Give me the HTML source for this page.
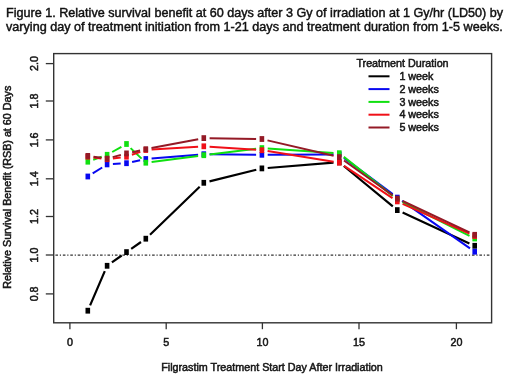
<!DOCTYPE html>
<html><head><meta charset="utf-8"><style>
html,body{margin:0;padding:0;background:#fff;}
body{width:520px;height:390px;overflow:hidden;}
svg{display:block;filter:blur(0.35px);}
text{font-family:"Liberation Sans",sans-serif;stroke:#111;stroke-width:0.5px;}
</style></head><body>
<svg width="520" height="390" viewBox="0 0 520 390">
<rect width="520" height="390" fill="#fff"/>

<text x="6" y="16.7" font-size="12.6" fill="#111" style="stroke-width:0.45px">Figure 1. Relative survival benefit at 60 days after 3 Gy of irradiation at 1 Gy/hr (LD50) by</text>
<text x="6" y="30.6" font-size="12.63" fill="#111" style="stroke-width:0.45px">varying day of treatment initiation from 1-21 days and treatment duration from 1-5 weeks.</text>
<rect x="53.7" y="53.6" width="437.90000000000003" height="269.2" fill="none" stroke="#333" stroke-width="1.4"/>
<line x1="53.7" y1="255.1" x2="491.6" y2="255.1" stroke="#333" stroke-width="1.1" stroke-dasharray="2.6 1.8 1.2 1.838" stroke-dashoffset="5.73"/>
<line x1="69.9" y1="322.8" x2="69.9" y2="329.2" stroke="#333" stroke-width="1.3"/>
<text x="69.9" y="345.6" font-size="10.75" text-anchor="middle" fill="#222">0</text>
<line x1="166.2" y1="322.8" x2="166.2" y2="329.2" stroke="#333" stroke-width="1.3"/>
<text x="166.2" y="345.6" font-size="10.75" text-anchor="middle" fill="#222">5</text>
<line x1="262.4" y1="322.8" x2="262.4" y2="329.2" stroke="#333" stroke-width="1.3"/>
<text x="262.4" y="345.6" font-size="10.75" text-anchor="middle" fill="#222">10</text>
<line x1="359.0" y1="322.8" x2="359.0" y2="329.2" stroke="#333" stroke-width="1.3"/>
<text x="359.0" y="345.6" font-size="10.75" text-anchor="middle" fill="#222">15</text>
<line x1="456.4" y1="322.8" x2="456.4" y2="329.2" stroke="#333" stroke-width="1.3"/>
<text x="456.4" y="345.6" font-size="10.75" text-anchor="middle" fill="#222">20</text>
<line x1="45.8" y1="293.9" x2="53.7" y2="293.9" stroke="#333" stroke-width="1.3"/>
<text transform="translate(38.4 293.9) rotate(-90)" font-size="10.75" text-anchor="middle" fill="#222">0.8</text>
<line x1="45.8" y1="255.0" x2="53.7" y2="255.0" stroke="#333" stroke-width="1.3"/>
<text transform="translate(38.4 255.0) rotate(-90)" font-size="10.75" text-anchor="middle" fill="#222">1.0</text>
<line x1="45.8" y1="216.5" x2="53.7" y2="216.5" stroke="#333" stroke-width="1.3"/>
<text transform="translate(38.4 216.5) rotate(-90)" font-size="10.75" text-anchor="middle" fill="#222">1.2</text>
<line x1="45.8" y1="178.8" x2="53.7" y2="178.8" stroke="#333" stroke-width="1.3"/>
<text transform="translate(38.4 178.8) rotate(-90)" font-size="10.75" text-anchor="middle" fill="#222">1.4</text>
<line x1="45.8" y1="139.9" x2="53.7" y2="139.9" stroke="#333" stroke-width="1.3"/>
<text transform="translate(38.4 139.9) rotate(-90)" font-size="10.75" text-anchor="middle" fill="#222">1.6</text>
<line x1="45.8" y1="101.0" x2="53.7" y2="101.0" stroke="#333" stroke-width="1.3"/>
<text transform="translate(38.4 101.0) rotate(-90)" font-size="10.75" text-anchor="middle" fill="#222">1.8</text>
<line x1="45.8" y1="63.6" x2="53.7" y2="63.6" stroke="#333" stroke-width="1.3"/>
<text transform="translate(38.4 63.6) rotate(-90)" font-size="10.75" text-anchor="middle" fill="#222">2.0</text>
<text x="272" y="370.9" font-size="10.75" text-anchor="middle" fill="#222">Filgrastim Treatment Start Day After Irradiation</text>
<text transform="translate(11.0 187.3) rotate(-90)" font-size="10.75" text-anchor="middle" fill="#222">Relative Survival Benefit (RSB) at 60 Days</text>
<path d="M90.1 305.4L104.8 271.1M111.9 262.4L121.7 255.5M131.2 248.8L141.0 242.0M150.0 234.7L199.7 186.8M209.5 181.4L256.3 169.8M267.7 168.0L333.5 162.7M343.8 166.0L392.8 206.4M402.6 212.5L469.4 243.4" stroke="#000000" stroke-width="2.2" fill="none"/>
<rect x="85.5" y="307.8" width="4.6" height="5.8" fill="#000000"/>
<rect x="104.8" y="262.9" width="4.6" height="5.8" fill="#000000"/>
<rect x="124.2" y="249.2" width="4.6" height="5.8" fill="#000000"/>
<rect x="143.5" y="235.8" width="4.6" height="5.8" fill="#000000"/>
<rect x="201.5" y="179.9" width="4.6" height="5.8" fill="#000000"/>
<rect x="259.6" y="165.5" width="4.6" height="5.8" fill="#000000"/>
<rect x="337.0" y="159.4" width="4.6" height="5.8" fill="#000000"/>
<rect x="395.0" y="207.2" width="4.6" height="5.8" fill="#000000"/>
<rect x="472.4" y="242.9" width="4.6" height="5.8" fill="#000000"/>
<path d="M92.7 173.4L102.2 167.5M112.9 164.0L120.7 163.6M132.1 162.0L140.1 160.2M151.6 158.5L198.1 154.7M209.6 154.3L256.1 154.7M267.7 154.8L333.5 154.4M343.9 157.9L392.7 194.1M402.1 200.9L470.0 248.4" stroke="#0808f0" stroke-width="2.0" fill="none"/>
<rect x="85.5" y="173.6" width="4.6" height="5.8" fill="#0808f0"/>
<rect x="104.8" y="161.5" width="4.6" height="5.8" fill="#0808f0"/>
<rect x="124.2" y="160.3" width="4.6" height="5.8" fill="#0808f0"/>
<rect x="143.5" y="156.1" width="4.6" height="5.8" fill="#0808f0"/>
<rect x="201.5" y="151.3" width="4.6" height="5.8" fill="#0808f0"/>
<rect x="259.6" y="151.9" width="4.6" height="5.8" fill="#0808f0"/>
<rect x="337.0" y="151.5" width="4.6" height="5.8" fill="#0808f0"/>
<rect x="395.0" y="194.7" width="4.6" height="5.8" fill="#0808f0"/>
<rect x="472.4" y="248.8" width="4.6" height="5.8" fill="#0808f0"/>
<path d="M93.2 159.7L101.7 156.7M112.2 152.0L121.4 146.8M130.6 148.1L141.6 158.6M151.6 161.9L198.1 155.9M209.6 154.5L256.1 148.8M267.7 148.5L333.5 152.9M343.8 156.9L392.8 195.9M402.5 202.1L469.5 235.9" stroke="#10e010" stroke-width="2.0" fill="none"/>
<rect x="85.5" y="158.8" width="4.6" height="5.8" fill="#10e010"/>
<rect x="104.8" y="151.9" width="4.6" height="5.8" fill="#10e010"/>
<rect x="124.2" y="141.1" width="4.6" height="5.8" fill="#10e010"/>
<rect x="143.5" y="159.8" width="4.6" height="5.8" fill="#10e010"/>
<rect x="201.5" y="152.3" width="4.6" height="5.8" fill="#10e010"/>
<rect x="259.6" y="145.2" width="4.6" height="5.8" fill="#10e010"/>
<rect x="337.0" y="150.3" width="4.6" height="5.8" fill="#10e010"/>
<rect x="395.0" y="196.6" width="4.6" height="5.8" fill="#10e010"/>
<rect x="472.4" y="235.6" width="4.6" height="5.8" fill="#10e010"/>
<path d="M93.5 157.4L101.4 158.5M112.9 158.5L120.7 157.4M131.9 154.8L140.3 151.9M151.6 149.6L198.1 146.7M209.6 146.7L256.1 149.8M267.6 151.1L333.6 161.7M344.1 165.9L392.5 198.2M402.6 203.8L469.4 233.6" stroke="#f01018" stroke-width="2.0" fill="none"/>
<rect x="85.5" y="153.8" width="4.6" height="5.8" fill="#f01018"/>
<rect x="104.8" y="156.3" width="4.6" height="5.8" fill="#f01018"/>
<rect x="124.2" y="153.8" width="4.6" height="5.8" fill="#f01018"/>
<rect x="143.5" y="147.1" width="4.6" height="5.8" fill="#f01018"/>
<rect x="201.5" y="143.4" width="4.6" height="5.8" fill="#f01018"/>
<rect x="259.6" y="147.3" width="4.6" height="5.8" fill="#f01018"/>
<rect x="337.0" y="159.8" width="4.6" height="5.8" fill="#f01018"/>
<rect x="395.0" y="198.5" width="4.6" height="5.8" fill="#f01018"/>
<rect x="472.4" y="233.1" width="4.6" height="5.8" fill="#f01018"/>
<path d="M93.5 156.7L101.4 157.8M112.7 157.1L120.9 154.9M132.1 152.2L140.1 150.5M151.5 148.1L198.2 139.2M209.6 138.2L256.1 138.9M267.5 140.4L333.6 155.8M344.0 160.5L392.6 195.2M402.6 201.0L469.5 232.4" stroke="#941a26" stroke-width="2.0" fill="none"/>
<rect x="85.5" y="153.0" width="4.6" height="5.8" fill="#941a26"/>
<rect x="104.8" y="155.7" width="4.6" height="5.8" fill="#941a26"/>
<rect x="124.2" y="150.5" width="4.6" height="5.8" fill="#941a26"/>
<rect x="143.5" y="146.3" width="4.6" height="5.8" fill="#941a26"/>
<rect x="201.5" y="135.2" width="4.6" height="5.8" fill="#941a26"/>
<rect x="259.6" y="136.1" width="4.6" height="5.8" fill="#941a26"/>
<rect x="337.0" y="154.2" width="4.6" height="5.8" fill="#941a26"/>
<rect x="395.0" y="195.7" width="4.6" height="5.8" fill="#941a26"/>
<rect x="472.4" y="231.9" width="4.6" height="5.8" fill="#941a26"/>
<text x="402.5" y="66.5" font-size="10.75" text-anchor="middle" fill="#222">Treatment Duration</text>
<line x1="368.5" y1="76.3" x2="389.5" y2="76.3" stroke="#000000" stroke-width="2.0"/>
<text x="399.4" y="79.9" font-size="10.75" fill="#222">1 week</text>
<line x1="368.5" y1="89.1" x2="389.5" y2="89.1" stroke="#0808f0" stroke-width="2.0"/>
<text x="399.4" y="92.7" font-size="10.75" fill="#222">2 weeks</text>
<line x1="368.5" y1="101.9" x2="389.5" y2="101.9" stroke="#10e010" stroke-width="2.0"/>
<text x="399.4" y="105.5" font-size="10.75" fill="#222">3 weeks</text>
<line x1="368.5" y1="114.7" x2="389.5" y2="114.7" stroke="#f01018" stroke-width="2.0"/>
<text x="399.4" y="118.3" font-size="10.75" fill="#222">4 weeks</text>
<line x1="368.5" y1="127.5" x2="389.5" y2="127.5" stroke="#941a26" stroke-width="2.0"/>
<text x="399.4" y="131.1" font-size="10.75" fill="#222">5 weeks</text>
</svg></body></html>
